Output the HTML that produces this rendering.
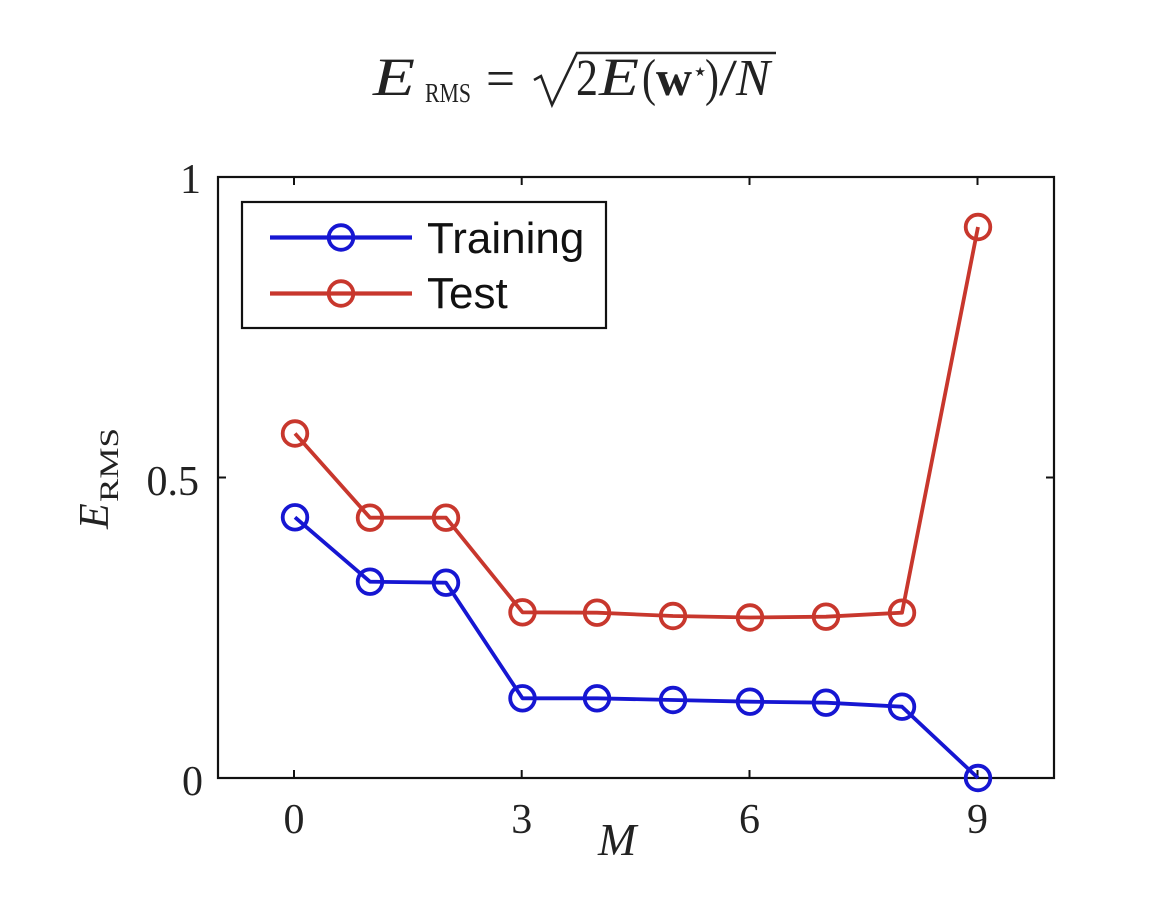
<!DOCTYPE html>
<html>
<head>
<meta charset="utf-8">
<style>
  html, body { margin:0; padding:0; background:#fff; }
  svg { display:block; }
</style>
</head>
<body>
<svg width="1172" height="910" viewBox="0 0 1172 910" xmlns="http://www.w3.org/2000/svg">
  <rect width="1172" height="910" fill="#ffffff"/>

  <!-- Title -->
  <g font-family="'Liberation Serif', serif" fill="#222">
    <text x="373" y="95" font-size="54" font-style="italic" textLength="42" lengthAdjust="spacingAndGlyphs">E</text>
    <text x="425" y="102" font-size="27" textLength="46" lengthAdjust="spacingAndGlyphs">RMS</text>
    <text x="486" y="96" font-size="52" textLength="29" lengthAdjust="spacingAndGlyphs">=</text>
    <path d="M534,80 L541,76 L552,105 L577,53 L776,53" fill="none" stroke="#222" stroke-width="2.5" stroke-linejoin="miter"/>
    <text x="576" y="95" font-size="52" textLength="22" lengthAdjust="spacingAndGlyphs">2</text>
    <text x="599" y="95" font-size="54" font-style="italic" textLength="40" lengthAdjust="spacingAndGlyphs">E</text>
    <text x="642" y="95" font-size="52" textLength="14" lengthAdjust="spacingAndGlyphs">(</text>
    <text x="656" y="95" font-size="50" font-weight="bold" textLength="36" lengthAdjust="spacingAndGlyphs">w</text>
    <text x="692" y="80" font-size="26">⋆</text>
    <text x="705" y="95" font-size="52" textLength="14" lengthAdjust="spacingAndGlyphs">)</text>
    <text x="719" y="95" font-size="52" textLength="18" lengthAdjust="spacingAndGlyphs">/</text>
    <text x="736" y="95" font-size="52" font-style="italic" textLength="34" lengthAdjust="spacingAndGlyphs">N</text>
  </g>

  <!-- Axes box -->
  <rect x="218" y="177" width="836" height="601" fill="none" stroke="#111" stroke-width="2.2"/>

  <!-- Ticks -->
  <g stroke="#111" stroke-width="2">
    <line x1="294" y1="778" x2="294" y2="770"/>
    <line x1="521.7" y1="778" x2="521.7" y2="770"/>
    <line x1="749.5" y1="778" x2="749.5" y2="770"/>
    <line x1="977.5" y1="778" x2="977.5" y2="770"/>
    <line x1="294" y1="177" x2="294" y2="185"/>
    <line x1="521.7" y1="177" x2="521.7" y2="185"/>
    <line x1="749.5" y1="177" x2="749.5" y2="185"/>
    <line x1="977.5" y1="177" x2="977.5" y2="185"/>
    <line x1="218" y1="477.5" x2="226" y2="477.5"/>
    <line x1="1054" y1="477.5" x2="1046" y2="477.5"/>
  </g>

  <!-- Tick labels -->
  <g font-family="'Liberation Serif', serif" font-size="42" fill="#222">
    <text x="294" y="833" text-anchor="middle">0</text>
    <text x="521.7" y="833" text-anchor="middle">3</text>
    <text x="749.5" y="833" text-anchor="middle">6</text>
    <text x="977.5" y="833" text-anchor="middle">9</text>
    <text x="201" y="193" text-anchor="end">1</text>
    <text x="199" y="495" text-anchor="end">0.5</text>
    <text x="203" y="795" text-anchor="end">0</text>
  </g>

  <!-- Axis labels -->
  <text x="598" y="855" font-family="'Liberation Serif', serif" font-size="46" font-style="italic" fill="#222">M</text>
  <g transform="translate(108,529) rotate(-90)" font-family="'Liberation Serif', serif" fill="#222">
    <text x="0" y="0" font-size="42" font-style="italic">E</text>
    <text x="27" y="10" font-size="26" textLength="74" lengthAdjust="spacingAndGlyphs">RMS</text>
  </g>

  <!-- Test series -->
  <g fill="none" stroke="#c8372d" stroke-width="3.8" stroke-linejoin="round">
    <polyline points="295,433.5 370,517.7 446,517.7 522.5,612.3 597,612.7 673,616 750,617.5 826,616.7 902,612.7 978,227"/>
    <circle cx="295" cy="433.5" r="12.3"/>
    <circle cx="370" cy="517.7" r="12.3"/>
    <circle cx="446" cy="517.7" r="12.3"/>
    <circle cx="522.5" cy="612.3" r="12.3"/>
    <circle cx="597" cy="612.7" r="12.3"/>
    <circle cx="673" cy="616" r="12.3"/>
    <circle cx="750" cy="617.5" r="12.3"/>
    <circle cx="826" cy="616.7" r="12.3"/>
    <circle cx="902" cy="612.7" r="12.3"/>
    <circle cx="978" cy="227" r="12.3"/>
  </g>

  <!-- Training series -->
  <g fill="none" stroke="#1616d2" stroke-width="3.8" stroke-linejoin="round">
    <polyline points="295,517.3 370,581.7 446,582.7 522.5,698.3 597,698.3 673,700 750,701.7 826,702.7 902,706.7 978,778"/>
    <circle cx="295" cy="517.3" r="12.3"/>
    <circle cx="370" cy="581.7" r="12.3"/>
    <circle cx="446" cy="582.7" r="12.3"/>
    <circle cx="522.5" cy="698.3" r="12.3"/>
    <circle cx="597" cy="698.3" r="12.3"/>
    <circle cx="673" cy="700" r="12.3"/>
    <circle cx="750" cy="701.7" r="12.3"/>
    <circle cx="826" cy="702.7" r="12.3"/>
    <circle cx="902" cy="706.7" r="12.3"/>
    <circle cx="978" cy="778" r="12.3"/>
  </g>

  <!-- Legend -->
  <rect x="242" y="202" width="364" height="126" fill="#ffffff" stroke="#111" stroke-width="2.2"/>
  <g fill="none">
    <line x1="270" y1="237.5" x2="412" y2="237.5" stroke="#1616d2" stroke-width="4.2"/>
    <circle cx="341" cy="237.5" r="12.3" stroke="#1616d2" stroke-width="3.8"/>
    <line x1="270" y1="293.5" x2="412" y2="293.5" stroke="#c8372d" stroke-width="4.2"/>
    <circle cx="341" cy="293.5" r="12.3" stroke="#c8372d" stroke-width="3.8"/>
  </g>
  <g font-family="'Liberation Sans', sans-serif" font-size="44" fill="#111">
    <text x="427" y="253">Training</text>
    <text x="427" y="308">Test</text>
  </g>
</svg>
</body>
</html>
